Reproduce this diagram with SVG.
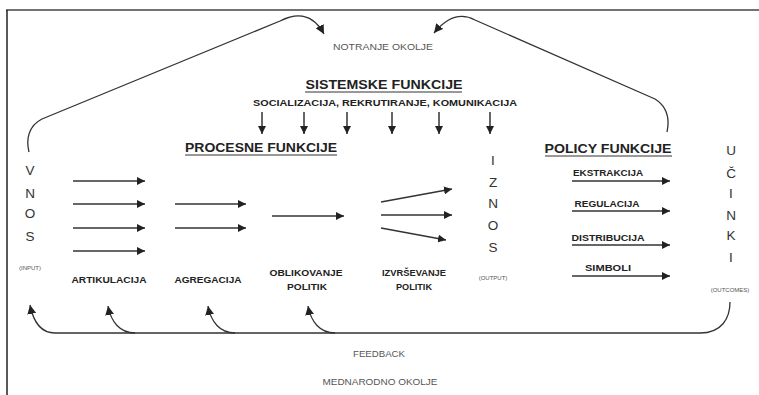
<svg xmlns="http://www.w3.org/2000/svg" width="759" height="395" viewBox="0 0 759 395">
<defs>
<marker id="ah" viewBox="0 0 10 10" refX="10" refY="5" markerWidth="8" markerHeight="8" markerUnits="userSpaceOnUse" orient="auto">
<path d="M0,0 L10,5 L0,10 z" fill="#222"/>
</marker>
<marker id="ah2" viewBox="0 0 10 10" refX="10" refY="5" markerWidth="9" markerHeight="9" markerUnits="userSpaceOnUse" orient="auto">
<path d="M0,0 L10,5 L0,10 z" fill="#222"/>
</marker>
</defs>
<style>
.ln{stroke:#333;stroke-width:1.5;fill:none}
.ar{stroke:#333;stroke-width:1.5;fill:none;marker-end:url(#ah)}
.cv{stroke:#333;stroke-width:1.3;fill:none}
.hd{font-family:"Liberation Sans",Arial,sans-serif;font-weight:bold;font-size:13px;fill:#222;text-anchor:middle}
.lb{font-family:"Liberation Sans",Arial,sans-serif;font-weight:bold;font-size:9px;fill:#222;text-anchor:middle}
.lt{font-family:"Liberation Sans",Arial,sans-serif;font-size:13.5px;fill:#333;text-anchor:middle}
.sm{font-family:"Liberation Sans",Arial,sans-serif;font-size:6px;fill:#555;text-anchor:middle}
.gr{font-family:"Liberation Sans",Arial,sans-serif;font-size:8.5px;fill:#555;text-anchor:middle}
.ul{stroke:#333;stroke-width:1}
</style>
<rect width="759" height="395" fill="#fff"/>
<g id="frame">
<line x1="6" y1="10" x2="759" y2="10" stroke="#444" stroke-width="1.5"/>
<line x1="7" y1="10" x2="7" y2="395" stroke="#222" stroke-width="1.5"/>
</g>
<g id="connectors">
<path class="cv" d="M29,152 C26,140 28,126 42,119 L280,21 C296,13 312,12 324,34" marker-end="url(#ah2)"/>
<path class="cv" d="M667,132 C670,118 666,106 655,99 L475,20 C462,13 448,16 434,33" marker-end="url(#ah2)"/>
<line class="ar" x1="262" y1="112" x2="262" y2="134"/>
<line class="ar" x1="304" y1="112" x2="304" y2="134"/>
<line class="ar" x1="347" y1="112" x2="347" y2="134"/>
<line class="ar" x1="392" y1="112" x2="392" y2="134"/>
<line class="ar" x1="439" y1="112" x2="439" y2="134"/>
<line class="ar" x1="490" y1="112" x2="490" y2="134"/>
<line class="ar" x1="73" y1="181" x2="145" y2="181"/>
<line class="ar" x1="73" y1="204" x2="145" y2="204"/>
<line class="ar" x1="73" y1="228" x2="145" y2="228"/>
<line class="ar" x1="73" y1="251" x2="145" y2="251"/>
<line class="ar" x1="175" y1="204" x2="246" y2="204"/>
<line class="ar" x1="175" y1="228" x2="246" y2="228"/>
<line class="ar" x1="272" y1="216" x2="344" y2="216"/>
<line class="ar" x1="381" y1="202" x2="452" y2="189"/>
<line class="ar" x1="381" y1="215" x2="452" y2="215"/>
<line class="ar" x1="381" y1="228" x2="446" y2="240"/>
<line class="ar" x1="572" y1="181" x2="670" y2="181"/>
<line class="ar" x1="572" y1="211" x2="670" y2="211"/>
<line class="ar" x1="572" y1="245" x2="670" y2="245"/>
<line class="ar" x1="572" y1="276" x2="670" y2="276"/>
<path class="cv" d="M730,302 C730,318 722,333 700,333 L55,333"/>
<path class="cv" d="M55,333 C40,333 33,320 30,305" marker-end="url(#ah2)"/>
<path class="cv" d="M135,333 C120,333 111,322 108,306" marker-end="url(#ah2)"/>
<path class="cv" d="M235,333 C220,333 211,322 208,306" marker-end="url(#ah2)"/>
<path class="cv" d="M335,333 C320,333 311,322 308,306" marker-end="url(#ah2)"/>
</g>
<g id="notranje"><text class="gr" x="383" y="50" textLength="100" lengthAdjust="spacingAndGlyphs">NOTRANJE OKOLJE</text></g>
<g id="sistemske">
<text class="hd" x="384" y="89" textLength="157" lengthAdjust="spacingAndGlyphs">SISTEMSKE FUNKCIJE</text>
<line class="ul" x1="305" y1="92" x2="462" y2="92"/>
<text class="lb" x="385" y="106" textLength="264" lengthAdjust="spacingAndGlyphs">SOCIALIZACIJA, REKRUTIRANJE, KOMUNIKACIJA</text>
</g>
<g id="procesne">
<text class="hd" x="261" y="152" textLength="152" lengthAdjust="spacingAndGlyphs">PROCESNE FUNKCIJE</text>
<line class="ul" x1="185" y1="155" x2="337" y2="155"/>
</g>
<g id="policy">
<text class="hd" x="608" y="153" textLength="127" lengthAdjust="spacingAndGlyphs">POLICY FUNKCIJE</text>
<line class="ul" x1="545" y1="156" x2="672" y2="156"/>
</g>
<g id="vnos">
<text class="lt" x="30" y="175">V</text>
<text class="lt" x="30" y="198">N</text>
<text class="lt" x="30" y="218">O</text>
<text class="lt" x="30" y="241">S</text>
<text class="sm" x="30" y="270">(INPUT)</text>
</g>
<g id="artikulacija"><text class="lb" x="109" y="283" textLength="75" lengthAdjust="spacingAndGlyphs">ARTIKULACIJA</text></g>
<g id="agregacija"><text class="lb" x="208" y="283" textLength="67" lengthAdjust="spacingAndGlyphs">AGREGACIJA</text></g>
<g id="oblikovanje">
<text class="lb" x="306" y="276" textLength="73" lengthAdjust="spacingAndGlyphs">OBLIKOVANJE</text>
<text class="lb" x="307" y="290" textLength="40" lengthAdjust="spacingAndGlyphs">POLITIK</text>
</g>
<g id="izvrsevanje">
<text class="lb" x="414" y="276" textLength="64" lengthAdjust="spacingAndGlyphs">IZVRŠEVANJE</text>
<text class="lb" x="414" y="290" textLength="36" lengthAdjust="spacingAndGlyphs">POLITIK</text>
</g>
<g id="iznos">
<text class="lt" x="493" y="165">I</text>
<text class="lt" x="493" y="187">Z</text>
<text class="lt" x="493" y="208">N</text>
<text class="lt" x="493" y="230">O</text>
<text class="lt" x="493" y="252">S</text>
<text class="sm" x="493" y="280">(OUTPUT)</text>
</g>
<g id="policylabels">
<text class="lb" x="608" y="176" textLength="70" lengthAdjust="spacingAndGlyphs">EKSTRAKCIJA</text>
<text class="lb" x="607" y="207" textLength="65" lengthAdjust="spacingAndGlyphs">REGULACIJA</text>
<text class="lb" x="608" y="241" textLength="73" lengthAdjust="spacingAndGlyphs">DISTRIBUCIJA</text>
<text class="lb" x="608" y="271" textLength="46" lengthAdjust="spacingAndGlyphs">SIMBOLI</text>
</g>
<g id="ucinki">
<text class="lt" x="731" y="155">U</text>
<text class="lt" x="731" y="178">Č</text>
<text class="lt" x="731" y="198">I</text>
<text class="lt" x="731" y="220">N</text>
<text class="lt" x="731" y="240">K</text>
<text class="lt" x="731" y="262">I</text>
<text class="sm" x="730" y="292">(OUTCOMES)</text>
</g>
<g id="feedback"><text class="gr" x="379" y="357" textLength="52" lengthAdjust="spacingAndGlyphs">FEEDBACK</text></g>
<g id="mednarodno"><text class="gr" x="380" y="385" textLength="115" lengthAdjust="spacingAndGlyphs">MEDNARODNO OKOLJE</text></g>
</svg>
